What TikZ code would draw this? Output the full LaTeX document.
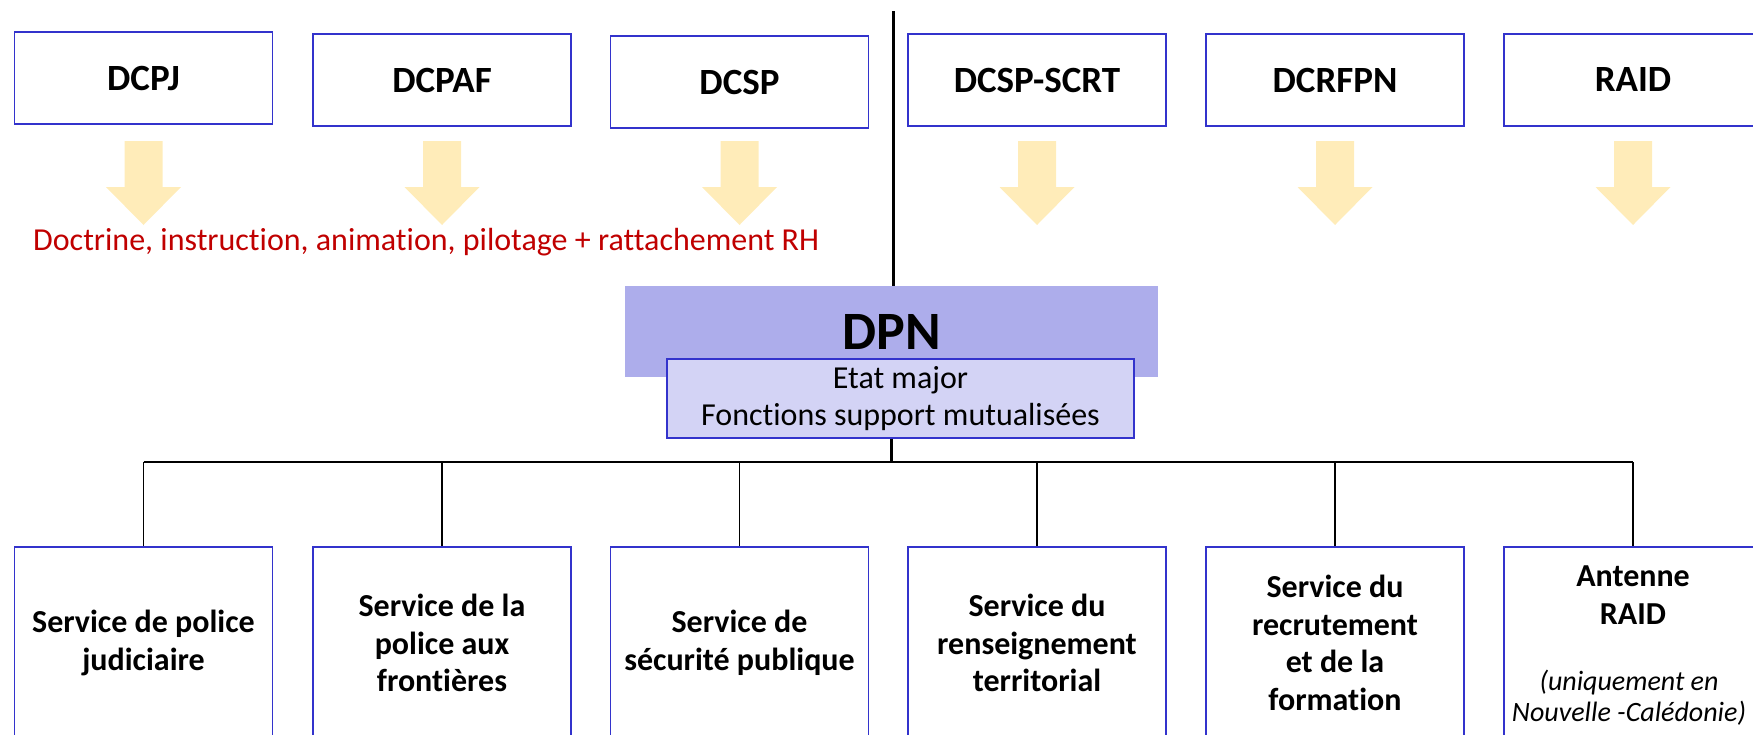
\documentclass[tikz,border=0pt]{standalone}
\usepackage{fontspec}
\setmainfont{Carlito}[Ligatures=NoCommon]
\definecolor{boxblue}{RGB}{51,51,204}
\definecolor{arrowyellow}{RGB}{255,236,185}
\definecolor{dpnfill}{RGB}{173,173,235}
\definecolor{etatfill}{RGB}{211,211,245}
\definecolor{redtext}{RGB}{192,0,0}
\begin{document}
\begin{tikzpicture}[x=1pt,y=-1pt,
  topbox/.style={draw=boxblue,line width=1.8pt,fill=white,minimum width=258pt,minimum height=92pt,inner sep=0pt,font=\bfseries\fontsize{37}{44}\selectfont},
  botbox/.style={draw=boxblue,line width=1.8pt,fill=white,minimum width=258pt,minimum height=192pt,inner sep=0pt,align=center,font=\bfseries\fontsize{32}{37.5}\selectfont},
  bold32/.style={inner sep=0pt,align=center,font=\bfseries\fontsize{32}{37.5}\selectfont},
  ital28/.style={inner sep=0pt,align=center,font=\itshape\fontsize{28}{31.6}\selectfont},
  conn/.style={draw=black,line width=1.3pt},
  trunk/.style={draw=black,line width=2.2pt},
  downarrow/.style={fill=arrowyellow,draw=none},
]
\useasboundingbox (0,0) rectangle (1753,734);
\clip (0,0) rectangle (1753,734);

% top directorates
\node[topbox] (dcpj) at (143.5,78) {DCPJ};
\node[topbox] (dcpaf) at (442,80) {DCPAF};
\node[topbox] (dcsp) at (739.5,82) {DCSP};
\node[topbox] (scrt) at (1037,80) {DCSP-SCRT};
\node[topbox] (dcrfpn) at (1335,80) {DCRFPN};
\node[topbox] (raid) at (1633,80) {RAID};

% yellow arrows
\foreach \c in {143.5,442,739.5,1037,1335,1633}
  \path[downarrow] (\c-19,141) -- (\c+19,141) -- (\c+19,187) -- (\c+37.5,187) -- (\c,225) -- (\c-37.5,187) -- (\c-19,187) -- cycle;

% red note
\node[anchor=base west,inner sep=0pt,text=redtext,font=\fontsize{32}{38}\selectfont] (note) at (33,250) {Doctrine, instruction, animation, pilotage + rattachement RH};

% DPN
\node[fill=dpnfill,minimum width=533pt,minimum height=91pt,inner sep=0pt,font=\bfseries\fontsize{54}{62}\selectfont] (dpn) at (891.5,331.5) {DPN};
\node[draw=boxblue,line width=1.3pt,fill=etatfill,minimum width=467pt,minimum height=79pt,inner sep=0pt,align=center,font=\fontsize{32}{36.3}\selectfont] (etat) at (900.5,398.5) {Etat major\\Fonctions support mutualisées};

% vertical separator
\coordinate (vtop) at (893.5,11);
\draw[line width=3pt] (vtop) -- (vtop |- dpn.north);

% bottom services
\node[botbox] (s1) at (143.5,643) {Service de police\\judiciaire};
\node[botbox] (s2) at (442,643) {Service de la\\police aux\\frontières};
\node[botbox] (s3) at (739.5,643) {Service de\\sécurité publique};
\node[botbox] (s4) at (1037,643) {Service du\\renseignement\\territorial};
\node[botbox] (s5) at (1335,643) {Service du\\recrutement\\et de la\\formation};
\node[botbox] (s6) at (1633,643) {};
\node[bold32] (s6a) at (1633,595) {Antenne\\RAID};
\node[ital28] (s6b) at (1629,697.5) {(uniquement en\\Nouvelle -Calédonie)};

% connectors
\coordinate (hub) at (891.5,462);
\draw[trunk] (hub |- etat.south) -- (hub);
\draw[conn] (hub -| s1.north) -- (hub -| s6.north);
\foreach \n in {s1,s2,s3,s4,s5,s6}
  \draw[conn] (hub -| \n.north) -- (\n.north);
\end{tikzpicture}
\end{document}
